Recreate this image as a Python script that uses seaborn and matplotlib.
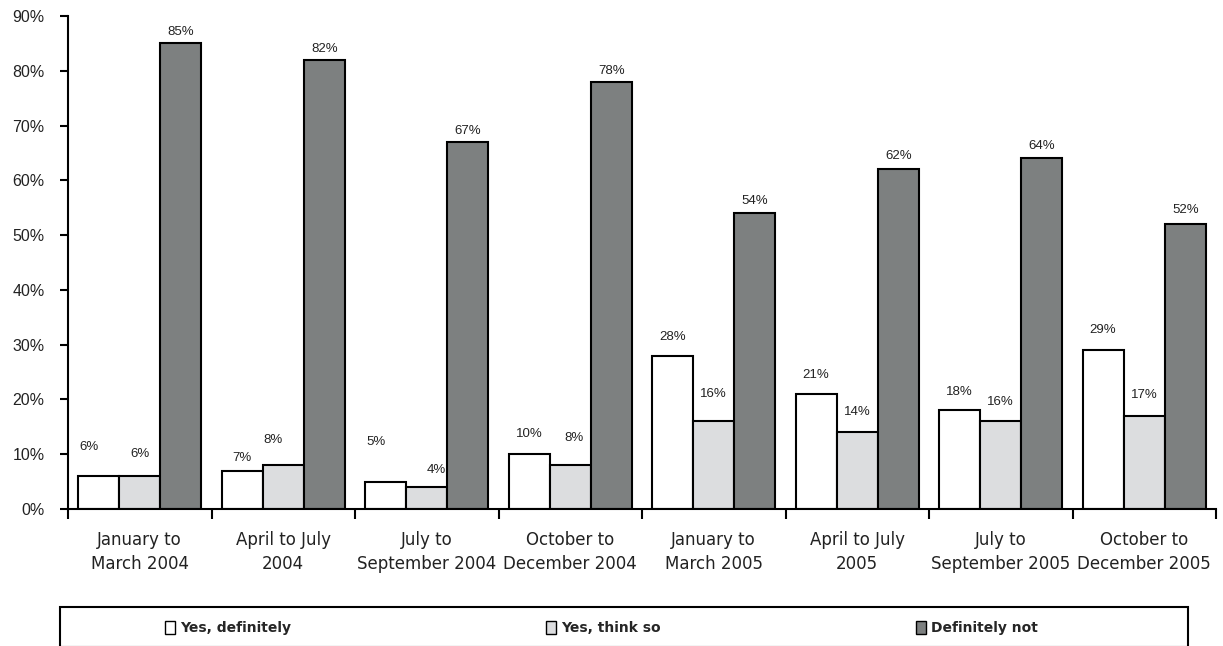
import matplotlib
matplotlib.use("Agg")
import matplotlib.pyplot as plt
from matplotlib.patches import Rectangle, Patch
from matplotlib.ticker import FixedLocator
import seaborn as sns
import pandas as pd

# Survey periods (x categories)
periods = [
    "January to\nMarch 2004",
    "April to July\n2004",
    "July to\nSeptember 2004",
    "October to\nDecember 2004",
    "January to\nMarch 2005",
    "April to July\n2005",
    "July to\nSeptember 2005",
    "October to\nDecember 2005",
]

# Response shares (%) per answer
series_names = ["Yes, definitely", "Yes, think so", "Definitely not"]
yes_definitely = [6, 7, 5, 10, 28, 21, 18, 29]
yes_think_so = [6, 8, 4, 8, 16, 14, 16, 17]
definitely_not = [85, 82, 67, 78, 54, 62, 64, 52]

y_ticks = [0, 10, 20, 30, 40, 50, 60, 70, 80, 90]

# Styling
bar_colors = ["#FFFFFF", "#DCDDDF", "#7D8080"]
# Value-label nudges in pixels (dx, dy above the bar top) for each answer
label_dx = [
    [-10, 0, -10, 0, 0, 0, 0, 0],
    [0, -10, 10, 4, 0, 0, 0, 0],
    [0, 0, 0, 0, 0, 0, 0, 0],
]
label_dy = [
    [29, 13, 40, 20, 19, 19, 18, 20],
    [22, 25, 17, 27, 27, 20, 19, 21],
    [11, 11, 11, 11, 12, 13, 12, 14],
]
# Left edge (pixels) of each legend entry inside the legend strip
legend_x = [165, 546, 916]

values = [yes_definitely, yes_think_so, definitely_not]
df = pd.DataFrame(
    {
        "period": [p for _ in series_names for p in periods],
        "answer": [s for s in series_names for _ in periods],
        "share": [v for vals in values for v in vals],
    }
)

sns.set_theme(style="white")
plt.rcParams["font.family"] = ["DejaVu Sans"]

W, H = 1223, 646
fig = plt.figure(figsize=(W / 100, H / 100), dpi=100)
ax = fig.add_axes([68 / W, 137 / H, (1216 - 68) / W, (509 - 16) / H])

sns.barplot(
    data=df, x="period", y="share", hue="answer",
    order=periods, hue_order=series_names,
    palette=bar_colors, width=0.86, gap=0,
    edgecolor="black", linewidth=1.5, saturation=1,
    legend=False, ax=ax,
)

# Value labels above each bar
for si, container in enumerate(ax.containers):
    for ci, bar in enumerate(container):
        ax.annotate(
            f"{values[si][ci]}%",
            xy=(bar.get_x() + bar.get_width() / 2, bar.get_height()),
            xytext=(label_dx[si][ci], label_dy[si][ci]),
            textcoords="offset pixels",
            ha="center", va="center", fontsize=9.5,
            family="Liberation Sans", color="#222222",
        )

ax.set_xlim(-0.5, len(periods) - 0.5)
ax.set_ylim(0, 90)
ax.set_yticks(y_ticks)
ax.set_yticklabels([f"{v}%" for v in y_ticks], family="Liberation Sans", fontsize=11.5)
ax.set_xlabel("")
ax.set_ylabel("")

# Group boundary tick marks on the x-axis
ax.xaxis.set_minor_locator(FixedLocator([i - 0.5 for i in range(len(periods) + 1)]))
ax.tick_params(axis="x", which="major", length=0, pad=16, labelsize=12, colors="#222222")
ax.tick_params(axis="x", which="minor", bottom=True, length=7, width=1.5, color="black")
ax.tick_params(axis="y", which="major", left=True, length=6, width=1.5, color="black",
               pad=11, colors="#222222")
for lbl in ax.get_xticklabels():
    lbl.set_linespacing(1.4)

sns.despine(ax=ax)
for side in ("left", "bottom"):
    ax.spines[side].set_color("black")
    ax.spines[side].set_linewidth(1.5)
ax.grid(False)

# Legend in a framed strip below the chart
fig.patches.append(
    Rectangle((60 / W, -1 / H), (1188 - 60) / W, (H - 607 + 1) / H,
              transform=fig.transFigure, fill=False, edgecolor="black",
              linewidth=1.5, clip_on=False)
)
for name, color, x0 in zip(series_names, bar_colors, legend_x):
    fig.legend(
        [Patch(facecolor=color, edgecolor="black", linewidth=1.0)], [name],
        loc="center left", bbox_to_anchor=(x0 / W, (H - 628) / H),
        frameon=False, handlelength=0.7, handleheight=1.1, handletextpad=0.4,
        prop={"family": "DejaVu Sans", "weight": "bold", "size": 10},
        borderaxespad=0, borderpad=0,
    )

fig.savefig("out.png", dpi=100, facecolor="white")
